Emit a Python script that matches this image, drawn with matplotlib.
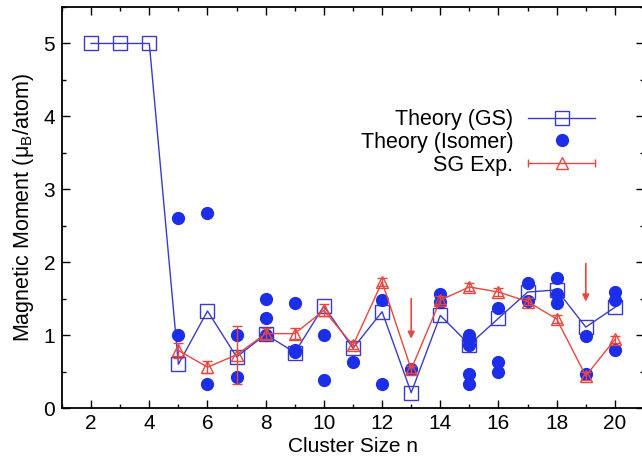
import matplotlib

matplotlib.use("Agg")
import matplotlib.pyplot as plt
from matplotlib.legend_handler import HandlerBase
from matplotlib.lines import Line2D
from matplotlib.ticker import MultipleLocator

plt.rcParams["font.family"] = ["Liberation Sans", "DejaVu Sans"]
plt.rcParams["mathtext.fontset"] = "custom"
plt.rcParams["mathtext.rm"] = "Liberation Sans"

# ground-state theory, n = 2..20
gs_n = list(range(2, 21))
gs_moment = [5.0, 5.0, 5.0, 0.60, 1.33, 0.70, 1.01, 0.76, 1.40, 0.82,
             1.32, 0.21, 1.27, 0.87, 1.23, 1.59, 1.62, 1.11, 1.38]

# isomers (n, moment)
iso_n = [5, 5, 6, 6, 7, 7, 8, 8, 8, 9, 9, 9, 10, 10, 11, 12, 12, 13,
         14, 14, 15, 15, 15, 15, 15, 16, 16, 16, 17, 17, 18, 18, 18,
         19, 19, 20, 20, 20]
iso_moment = [1.0, 2.60, 0.33, 2.67, 1.0, 0.43, 1.50, 1.24, 1.0, 1.44,
              0.77, 0.80, 1.0, 0.39, 0.63, 1.48, 0.33, 0.53,
              1.57, 1.45, 1.0, 0.93, 0.86, 0.46, 0.33, 1.37, 0.63, 0.50,
              1.71, 1.47, 1.78, 1.56, 1.44, 0.99, 0.46, 1.59, 1.48, 0.80]

# Stern-Gerlach experiment, n = 5..20
exp_n = list(range(5, 21))
exp_moment = [0.79, 0.56, 0.73, 1.02, 1.02, 1.34, 0.86, 1.73, 0.53, 1.48,
              1.66, 1.59, 1.46, 1.22, 0.44, 0.94]
exp_err = [0.10, 0.08, 0.40, 0.08, 0.08, 0.08, 0.05, 0.05, 0.05, 0.05,
           0.05, 0.05, 0.05, 0.05, 0.05, 0.05]

# arrows marking n = 13 and n = 19
arrow_n = [13, 19]
arrow_top = [1.50, 1.98]
arrow_tip = [0.95, 1.46]

BLUE_LINE = "#3b3bc8"
BLUE_DOT = "#1c2ee8"
RED = "#e8473f"


class CapLineHandler(HandlerBase):
    def create_artists(self, legend, orig_handle, xdescent, ydescent,
                       width, height, fontsize, trans):
        x0, x1 = -xdescent, width - xdescent
        y = (height - ydescent) / 2
        line = Line2D([x0, x1], [y, y], color=RED, lw=1)
        caps = Line2D([x0, x1], [y, y], ls="none", marker="|", ms=6,
                      mew=1, color=RED)
        tri = Line2D([(x0 + x1) / 2], [y], ls="none", marker="^", ms=8,
                     mfc="none", mec=RED, mew=1)
        for a in (line, caps, tri):
            a.set_transform(trans)
        return [line, caps, tri]


fig = plt.figure(figsize=(6.42, 4.68), dpi=100)
ax = fig.add_axes([62 / 642, 60 / 468, 582 / 642, 401 / 468])

gs_line, = ax.plot(gs_n, gs_moment, color=BLUE_LINE, lw=1, marker="s",
                   ms=9.5, mfc="none", mec=BLUE_LINE, mew=1, zorder=2)
iso_pts, = ax.plot(iso_n, iso_moment, ls="none", marker="o", ms=8.5,
                   color=BLUE_DOT, zorder=3)
ax.errorbar(exp_n, exp_moment, yerr=exp_err, color=RED, lw=1,
            marker="^", ms=8, mfc="none", mec=RED, mew=1, capsize=3.5,
            elinewidth=1, zorder=4)

for n, top, tip in zip(arrow_n, arrow_top, arrow_tip):
    ax.annotate("", xy=(n, tip), xytext=(n, top),
                arrowprops=dict(arrowstyle="-|>", color=RED, lw=1.2,
                                mutation_scale=10, shrinkA=0, shrinkB=0))

exp_proxy = Line2D([], [], color=RED)
ax.legend([gs_line, iso_pts, exp_proxy],
          ["Theory (GS)", "Theory (Isomer)", "SG Exp."],
          handler_map={exp_proxy: CapLineHandler()},
          loc="upper right", bbox_to_anchor=(0.916, 0.745),
          frameon=False, markerfirst=False, handlelength=3.1,
          borderpad=0, borderaxespad=0, labelspacing=0.08,
          handletextpad=0.7, fontsize=15.5)

ax.set_xlim(1, 21)
ax.set_ylim(0, 5.5)
ax.xaxis.set_major_locator(MultipleLocator(2))
ax.xaxis.set_minor_locator(MultipleLocator(1))
ax.yaxis.set_major_locator(MultipleLocator(1))
ax.yaxis.set_minor_locator(MultipleLocator(0.5))
ax.tick_params(which="both", direction="in", top=True, right=True,
               width=1, labelsize=15)
ax.tick_params(which="major", length=6)
ax.tick_params(which="minor", length=3)
ax.tick_params(axis="x", pad=4)
ax.tick_params(axis="y", pad=5)
for s in ax.spines.values():
    s.set_linewidth(1.3)

ax.set_xlabel("Cluster Size n", fontsize=15, labelpad=3)
ax.set_ylabel("Magnetic Moment (μ$_\\mathrm{B}$/atom)", fontsize=15.5,
              labelpad=5)

fig.savefig("out.png", dpi=100)
